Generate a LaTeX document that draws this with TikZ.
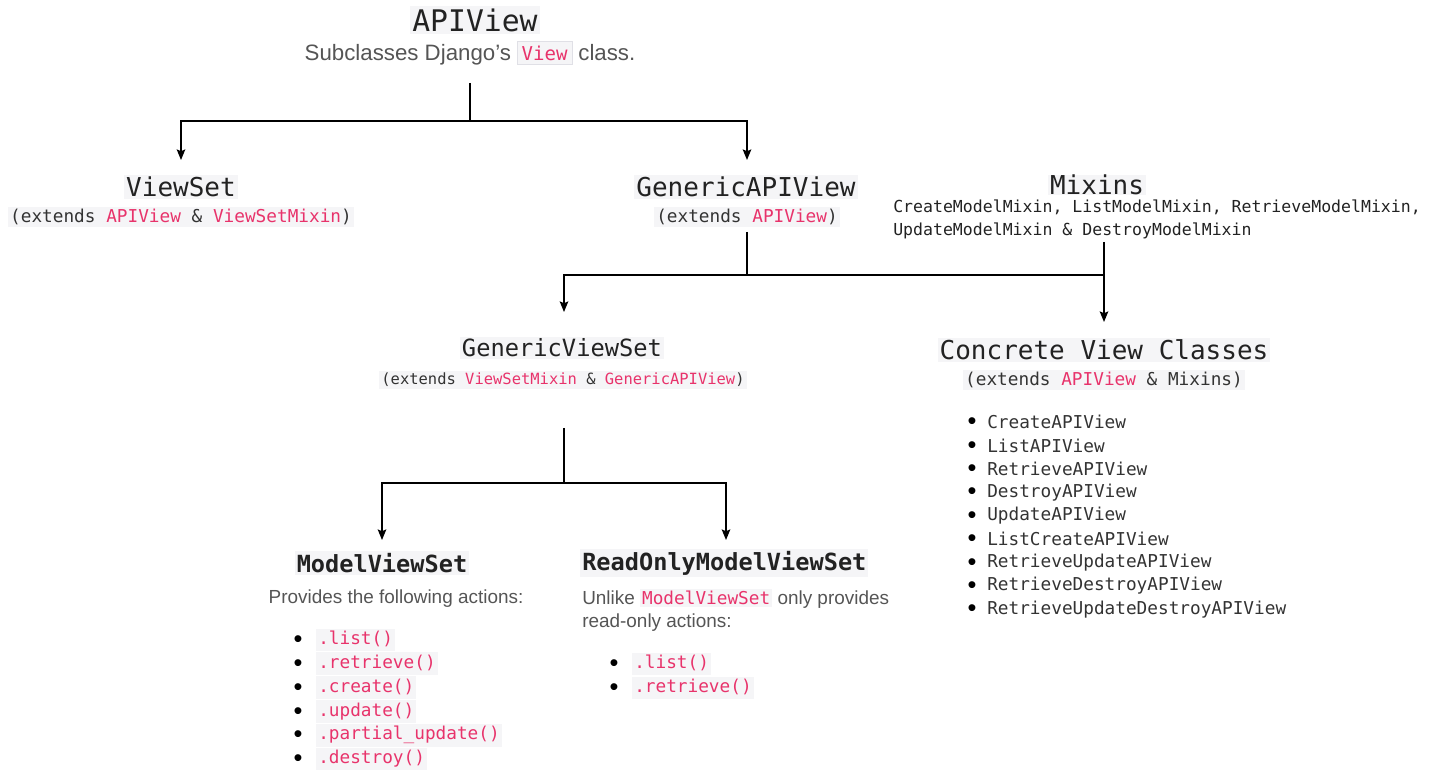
\documentclass[tikz,border=0pt]{standalone}
\usepackage{fontspec}
\setmainfont{Liberation Sans}
\newfontfamily\mono{DejaVu Sans Mono}
\usetikzlibrary{arrows.meta}
\definecolor{codered}{HTML}{E8336B}
\definecolor{codebg}{HTML}{F5F5F7}
\definecolor{txtgray}{HTML}{555555}
\definecolor{dark}{HTML}{222222}
\definecolor{listgray}{HTML}{333333}
\definecolor{boxline}{HTML}{E0E0E6}
\newcommand\cd[1]{\textcolor{codered}{#1}}
\begin{document}
\begin{tikzpicture}[x=0.75pt,y=-0.75pt,
  head/.style={font=\mono\fontsize{19.5}{22}\selectfont, text=dark, fill=codebg, inner sep=1.5pt},
  bhead/.style={font=\mono\bfseries\fontsize{17.7}{20}\selectfont, text=dark, fill=codebg, inner sep=1.5pt},
  ext/.style={font=\mono\fontsize{13.3}{16}\selectfont, text=listgray, fill=codebg, inner sep=1.5pt},
  sans/.style={font=\fontsize{14.2}{17.25}\selectfont, text=txtgray, inner sep=0pt},
  bul/.style={font=\fontsize{19}{20}\selectfont, text=black, inner sep=0pt, yshift=-1.3pt},
  citem/.style={font=\mono\fontsize{13.3}{16}\selectfont, text=codered, fill=codebg, anchor=west, inner xsep=1.5pt, inner ysep=2pt, text height=10pt, text depth=3pt},
  pitem/.style={font=\mono\fontsize{13.3}{16}\selectfont, text=listgray, anchor=west, inner sep=0pt},
  conn/.style={line width=1pt, draw=black},
  arr/.style={conn, -{Stealth[length=8pt,width=6.5pt,inset=1.5pt]}}]
\useasboundingbox (0,0) rectangle (1440,773);

% level 0
\node[head, font=\mono\fontsize{22.3}{25}\selectfont] (api) at (475,20) {APIView};
\node[font=\fontsize{16.7}{18}\selectfont, text=txtgray, inner sep=0pt] (apisub) at (470,53)
  {Subclasses Django's {\setlength{\fboxsep}{3pt}\fcolorbox{boxline}{codebg}{\mono\fontsize{14.3}{16}\selectfont\cd{View}}} class.};

% level 1
\node[head] (vs) at (181,187) {ViewSet};
\node[ext] (vsx) at (181,217) {(extends \cd{APIView} \& \cd{ViewSetMixin})};
\node[head] (ga) at (746,187) {GenericAPIView};
\node[ext] (gax) at (747,217) {(extends \cd{APIView})};
\node[head, inner ysep=0.3pt] (mx) at (1097,185) {Mixins};
\node[font=\mono\fontsize{12.4}{17.25}\selectfont, text=dark, align=left, anchor=west, inner sep=0pt] (mxl) at (893,219)
  {CreateModelMixin, ListModelMixin, RetrieveModelMixin,\\UpdateModelMixin \& DestroyModelMixin};

% level 2
\node[head, font=\mono\fontsize{17.8}{20}\selectfont] (gvs) at (562,348) {GenericViewSet};
\node[ext, font=\mono\fontsize{11.6}{14}\selectfont] (gvsx) at (563,380) {(extends \cd{ViewSetMixin} \& \cd{GenericAPIView})};
\node[head] (cv) at (1104,350) {Concrete View Classes};
\node[ext] (cvx) at (1104,380) {(extends \cd{APIView} \& Mixins)};
\foreach \t [count=\i from 0] in {CreateAPIView,ListAPIView,RetrieveAPIView,DestroyAPIView,UpdateAPIView,ListCreateAPIView,RetrieveUpdateAPIView,RetrieveDestroyAPIView,RetrieveUpdateDestroyAPIView}{
  \node[bul] (cvb\i) at (972,422+\i*23.4) {\textbullet};
  \node[pitem] (cvi\i) at (987,422+\i*23.4) {\t};
}

% level 3
\node[bhead] (mvs) at (382,563) {ModelViewSet};
\node[sans] (mvsd) at (396,599) {Provides the following actions:};
\foreach \t [count=\i from 0] in {.list(),.retrieve(),.create(),.update(),.partial\_update(),.destroy()}{
  \node[bul] (mvb\i) at (298,640+\i*23.8) {\textbullet};
  \node[citem] (mvi\i) at (316,640+\i*23.8) {\t};
}
\node[bhead, anchor=west] (ro) at (580,563) {ReadOnlyModelViewSet};
\node[sans, align=left, anchor=west] (rod) at (582,610.5)
  {Unlike {\setlength{\fboxsep}{1.5pt}\colorbox{codebg}{\mono\fontsize{13.3}{16}\selectfont\cd{ModelViewSet}}} only provides\\read-only actions:};
\foreach \t [count=\i from 0] in {.list(),.retrieve()}{
  \node[bul] (rob\i) at (614,664+\i*24) {\textbullet};
  \node[citem] (roi\i) at (632,664+\i*24) {\t};
}

% connectors
\coordinate (a0) at (470,83);
\coordinate (a1) at (470,121);
\coordinate (vsT) at (181,160);
\coordinate (gaT) at (747,160);
\draw[conn] (a0) -- (a1);
\draw[arr] (a1) -| (vsT);
\draw[arr] (a1) -| (gaT);

\coordinate (g0) at (747,232);
\coordinate (g1) at (747,275);
\coordinate (m0) at (1104,242);
\coordinate (m1) at (1104,275);
\coordinate (gvsT) at (564,312);
\coordinate (cvT) at (1104,322);
\draw[conn] (g0) -- (g1);
\draw[conn] (g1) -- (m1);
\draw[arr] (g1) -| (gvsT);
\draw[arr] (m0) -- (cvT);

\coordinate (s0) at (564,428);
\coordinate (s1) at (564,483);
\coordinate (mvT) at (382,540);
\coordinate (roT) at (726,540);
\draw[conn] (s0) -- (s1);
\draw[arr] (s1) -| (mvT);
\draw[arr] (s1) -| (roT);
\end{tikzpicture}
\end{document}
